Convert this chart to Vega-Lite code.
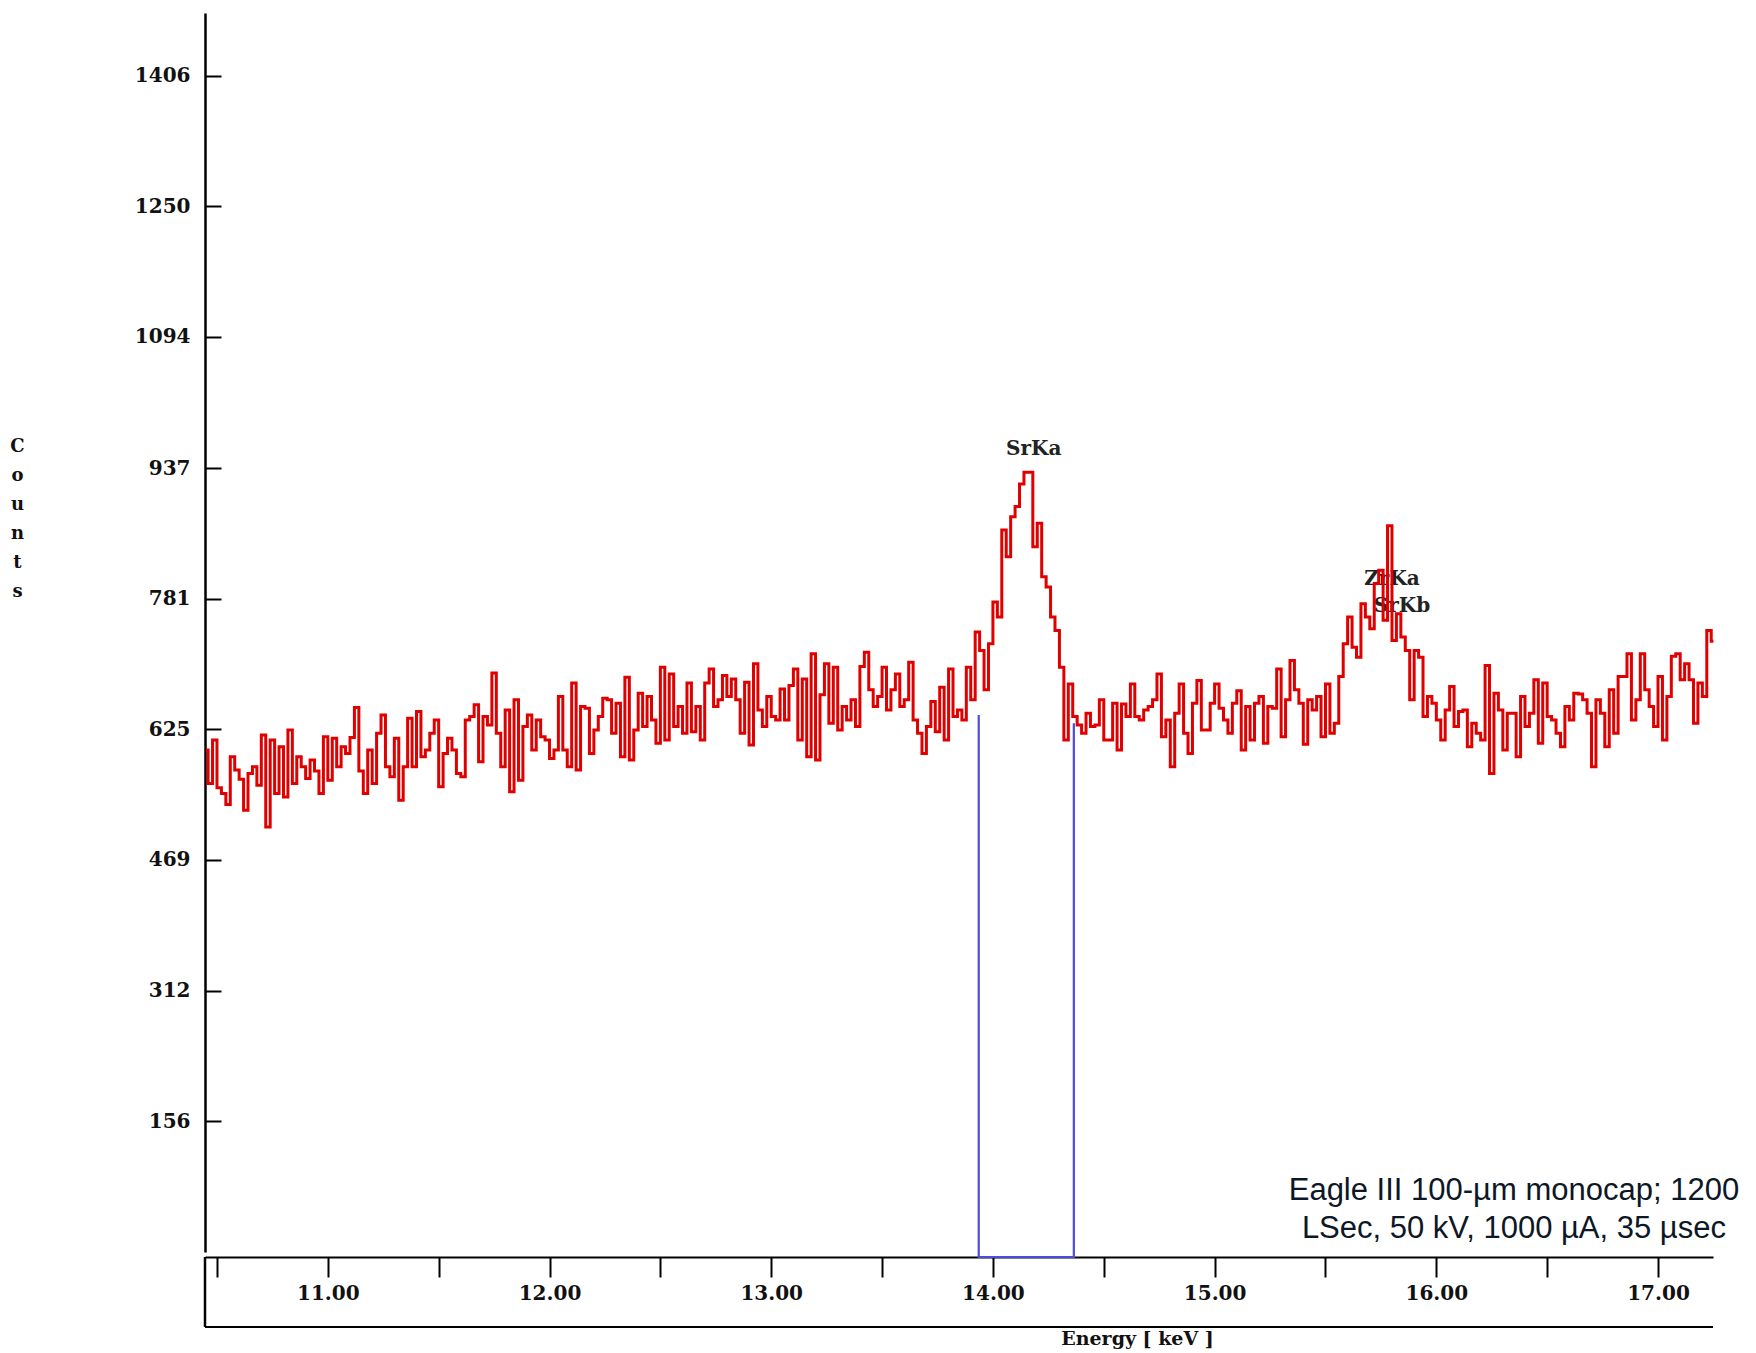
{
  "$schema": "https://vega.github.io/schema/vega-lite/v6.json",
  "width": 1508,
  "height": 1239,
  "autosize": {"type": "none"},
  "padding": {"left": 205, "top": 13, "right": 43, "bottom": 101},
  "background": "white",
  "config": {"view": {"stroke": null}},
  "datasets": {
    "spectrum": [
      {"e":10.45,"c":600},{"e":10.47,"c":560},{"e":10.49,"c":612},{"e":10.51,"c":555},{"e":10.53,"c":548},{"e":10.55,"c":535},{"e":10.57,"c":592},{"e":10.59,"c":576},{"e":10.61,"c":565},{"e":10.63,"c":528},
      {"e":10.65,"c":572},{"e":10.67,"c":580},{"e":10.69,"c":558},{"e":10.71,"c":618},{"e":10.73,"c":508},{"e":10.75,"c":612},{"e":10.77,"c":548},{"e":10.79,"c":604},{"e":10.81,"c":544},{"e":10.83,"c":624},
      {"e":10.85,"c":560},{"e":10.87,"c":592},{"e":10.89,"c":580},{"e":10.91,"c":566},{"e":10.93,"c":588},{"e":10.95,"c":575},{"e":10.97,"c":548},{"e":10.99,"c":616},{"e":11.01,"c":564},{"e":11.03,"c":614},
      {"e":11.05,"c":580},{"e":11.07,"c":604},{"e":11.09,"c":596},{"e":11.11,"c":615},{"e":11.13,"c":651},{"e":11.15,"c":575},{"e":11.17,"c":548},{"e":11.19,"c":600},{"e":11.21,"c":560},{"e":11.23,"c":620},
      {"e":11.25,"c":642},{"e":11.27,"c":580},{"e":11.29,"c":568},{"e":11.31,"c":614},{"e":11.33,"c":540},{"e":11.35,"c":580},{"e":11.37,"c":638},{"e":11.39,"c":580},{"e":11.41,"c":646},{"e":11.43,"c":592},
      {"e":11.45,"c":600},{"e":11.47,"c":620},{"e":11.49,"c":636},{"e":11.51,"c":556},{"e":11.53,"c":596},{"e":11.55,"c":614},{"e":11.57,"c":600},{"e":11.59,"c":572},{"e":11.61,"c":568},{"e":11.63,"c":636},
      {"e":11.65,"c":640},{"e":11.67,"c":654},{"e":11.69,"c":586},{"e":11.71,"c":640},{"e":11.73,"c":630},{"e":11.75,"c":692},{"e":11.77,"c":620},{"e":11.79,"c":580},{"e":11.81,"c":648},{"e":11.83,"c":550},
      {"e":11.85,"c":660},{"e":11.87,"c":564},{"e":11.89,"c":628},{"e":11.91,"c":642},{"e":11.93,"c":600},{"e":11.95,"c":636},{"e":11.97,"c":616},{"e":11.99,"c":612},{"e":12.01,"c":590},{"e":12.03,"c":600},
      {"e":12.05,"c":664},{"e":12.07,"c":600},{"e":12.09,"c":580},{"e":12.11,"c":680},{"e":12.13,"c":576},{"e":12.15,"c":652},{"e":12.17,"c":650},{"e":12.19,"c":596},{"e":12.21,"c":624},{"e":12.23,"c":640},
      {"e":12.25,"c":662},{"e":12.27,"c":660},{"e":12.29,"c":620},{"e":12.31,"c":656},{"e":12.33,"c":592},{"e":12.35,"c":687},{"e":12.37,"c":588},{"e":12.39,"c":624},{"e":12.41,"c":668},{"e":12.43,"c":628},
      {"e":12.45,"c":664},{"e":12.47,"c":636},{"e":12.49,"c":608},{"e":12.51,"c":699},{"e":12.53,"c":612},{"e":12.55,"c":691},{"e":12.57,"c":628},{"e":12.59,"c":652},{"e":12.61,"c":620},{"e":12.63,"c":680},
      {"e":12.65,"c":622},{"e":12.67,"c":652},{"e":12.69,"c":612},{"e":12.71,"c":680},{"e":12.73,"c":697},{"e":12.75,"c":652},{"e":12.77,"c":660},{"e":12.79,"c":689},{"e":12.81,"c":664},{"e":12.83,"c":685},
      {"e":12.85,"c":660},{"e":12.87,"c":620},{"e":12.89,"c":681},{"e":12.91,"c":606},{"e":12.93,"c":703},{"e":12.95,"c":648},{"e":12.97,"c":628},{"e":12.99,"c":664},{"e":13.01,"c":640},{"e":13.03,"c":636},
      {"e":13.05,"c":673},{"e":13.07,"c":636},{"e":13.09,"c":677},{"e":13.11,"c":697},{"e":13.13,"c":612},{"e":13.15,"c":685},{"e":13.17,"c":592},{"e":13.19,"c":715},{"e":13.21,"c":588},{"e":13.23,"c":666},
      {"e":13.25,"c":703},{"e":13.27,"c":632},{"e":13.29,"c":699},{"e":13.31,"c":624},{"e":13.33,"c":652},{"e":13.35,"c":636},{"e":13.37,"c":660},{"e":13.39,"c":628},{"e":13.41,"c":700},{"e":13.43,"c":717},
      {"e":13.45,"c":672},{"e":13.47,"c":652},{"e":13.49,"c":664},{"e":13.51,"c":699},{"e":13.53,"c":648},{"e":13.55,"c":672},{"e":13.57,"c":691},{"e":13.59,"c":652},{"e":13.61,"c":660},{"e":13.63,"c":705},
      {"e":13.65,"c":636},{"e":13.67,"c":620},{"e":13.69,"c":596},{"e":13.71,"c":628},{"e":13.73,"c":658},{"e":13.75,"c":622},{"e":13.77,"c":675},{"e":13.79,"c":612},{"e":13.81,"c":697},{"e":13.83,"c":640},
      {"e":13.85,"c":648},{"e":13.87,"c":636},{"e":13.89,"c":699},{"e":13.91,"c":660},{"e":13.93,"c":741},{"e":13.95,"c":719},{"e":13.97,"c":672},{"e":13.99,"c":727},{"e":14.01,"c":777},{"e":14.03,"c":759},
      {"e":14.05,"c":863},{"e":14.07,"c":831},{"e":14.09,"c":879},{"e":14.11,"c":891},{"e":14.13,"c":918},{"e":14.15,"c":932},{"e":14.17,"c":932},{"e":14.19,"c":843},{"e":14.21,"c":871},{"e":14.23,"c":807},
      {"e":14.25,"c":795},{"e":14.27,"c":759},{"e":14.29,"c":743},{"e":14.31,"c":699},{"e":14.33,"c":612},{"e":14.35,"c":679},{"e":14.37,"c":640},{"e":14.39,"c":630},{"e":14.41,"c":620},{"e":14.43,"c":644},
      {"e":14.45,"c":628},{"e":14.47,"c":630},{"e":14.49,"c":660},{"e":14.51,"c":612},{"e":14.53,"c":612},{"e":14.55,"c":656},{"e":14.57,"c":600},{"e":14.59,"c":655},{"e":14.61,"c":640},{"e":14.63,"c":679},
      {"e":14.65,"c":640},{"e":14.67,"c":636},{"e":14.69,"c":648},{"e":14.71,"c":652},{"e":14.73,"c":660},{"e":14.75,"c":691},{"e":14.77,"c":616},{"e":14.79,"c":636},{"e":14.81,"c":580},{"e":14.83,"c":644},
      {"e":14.85,"c":679},{"e":14.87,"c":620},{"e":14.89,"c":596},{"e":14.91,"c":656},{"e":14.93,"c":683},{"e":14.95,"c":624},{"e":14.97,"c":624},{"e":14.99,"c":656},{"e":15.01,"c":679},{"e":15.03,"c":650},
      {"e":15.05,"c":636},{"e":15.07,"c":620},{"e":15.09,"c":656},{"e":15.11,"c":671},{"e":15.13,"c":600},{"e":15.15,"c":652},{"e":15.17,"c":612},{"e":15.19,"c":656},{"e":15.21,"c":664},{"e":15.23,"c":608},
      {"e":15.25,"c":652},{"e":15.27,"c":650},{"e":15.29,"c":697},{"e":15.31,"c":616},{"e":15.33,"c":660},{"e":15.35,"c":707},{"e":15.37,"c":672},{"e":15.39,"c":656},{"e":15.41,"c":607},{"e":15.43,"c":660},
      {"e":15.45,"c":648},{"e":15.47,"c":664},{"e":15.49,"c":616},{"e":15.51,"c":679},{"e":15.53,"c":620},{"e":15.55,"c":632},{"e":15.57,"c":688},{"e":15.59,"c":727},{"e":15.61,"c":759},{"e":15.63,"c":723},
      {"e":15.65,"c":711},{"e":15.67,"c":775},{"e":15.69,"c":759},{"e":15.71,"c":745},{"e":15.73,"c":799},{"e":15.75,"c":815},{"e":15.77,"c":755},{"e":15.79,"c":868},{"e":15.81,"c":731},{"e":15.83,"c":763},
      {"e":15.85,"c":735},{"e":15.87,"c":719},{"e":15.89,"c":660},{"e":15.91,"c":719},{"e":15.93,"c":711},{"e":15.95,"c":640},{"e":15.97,"c":664},{"e":15.99,"c":656},{"e":16.01,"c":636},{"e":16.03,"c":612},
      {"e":16.05,"c":648},{"e":16.07,"c":676},{"e":16.09,"c":628},{"e":16.11,"c":646},{"e":16.13,"c":648},{"e":16.15,"c":604},{"e":16.17,"c":632},{"e":16.19,"c":620},{"e":16.21,"c":612},{"e":16.23,"c":701},
      {"e":16.25,"c":572},{"e":16.27,"c":668},{"e":16.29,"c":648},{"e":16.31,"c":600},{"e":16.33,"c":644},{"e":16.35,"c":644},{"e":16.37,"c":592},{"e":16.39,"c":664},{"e":16.41,"c":628},{"e":16.43,"c":644},
      {"e":16.45,"c":684},{"e":16.47,"c":608},{"e":16.49,"c":680},{"e":16.51,"c":640},{"e":16.53,"c":636},{"e":16.55,"c":620},{"e":16.57,"c":604},{"e":16.59,"c":652},{"e":16.61,"c":636},{"e":16.63,"c":668},
      {"e":16.65,"c":667},{"e":16.67,"c":660},{"e":16.69,"c":644},{"e":16.71,"c":580},{"e":16.73,"c":660},{"e":16.75,"c":644},{"e":16.77,"c":604},{"e":16.79,"c":672},{"e":16.81,"c":620},{"e":16.83,"c":688},
      {"e":16.85,"c":688},{"e":16.87,"c":715},{"e":16.89,"c":636},{"e":16.91,"c":660},{"e":16.93,"c":715},{"e":16.95,"c":672},{"e":16.97,"c":652},{"e":16.99,"c":628},{"e":17.01,"c":688},{"e":17.03,"c":612},
      {"e":17.05,"c":664},{"e":17.07,"c":712},{"e":17.09,"c":715},{"e":17.11,"c":684},{"e":17.13,"c":703},{"e":17.15,"c":684},{"e":17.17,"c":632},{"e":17.19,"c":680},{"e":17.21,"c":664},{"e":17.23,"c":743},
      {"e":17.25,"c":730}
    ],
    "roi": [
      {"i":0,"e":13.936,"c":642},
      {"i":1,"e":13.936,"c":-6},
      {"i":2,"e":14.365,"c":-6},
      {"i":3,"e":14.365,"c":632}
    ],
    "boxBottom": [{"e":10.446,"e2":17.248,"c":-89.6}],
    "boxLeft": [{"e":10.446,"c":-6,"c2":-89.6}],
    "peaks": [
      {"e":14.184,"c":960,"t":"SrKa"},
      {"e":15.80,"c":804,"t":"ZrKa"},
      {"e":15.845,"c":772,"t":"SrKb"}
    ],
    "note": [
      {"e":16.35,"c":73,"t":"Eagle III 100-µm monocap; 1200"},
      {"e":16.35,"c":27,"t":"LSec, 50 kV, 1000 µA, 35 µsec"}
    ]
  },
  "encoding": {
    "x": {
      "field": "e",
      "type": "quantitative",
      "scale": {"domain": [10.446, 17.248], "nice": false, "zero": false},
      "axis": {
        "title": "Energy [ keV ]",
        "values": [10.5, 11, 11.5, 12, 12.5, 13, 13.5, 14, 14.5, 15, 15.5, 16, 16.5, 17],
        "labelExpr": "datum.value % 1 === 0 ? format(datum.value, '.2f') : ''",
        "offset": 5,
        "grid": false,
        "tickSize": 20,
        "tickWidth": 2,
        "tickColor": "#000000",
        "domainColor": "#000000",
        "domainWidth": 2,
        "labelFont": "DejaVu Serif",
        "labelFontWeight": "bold",
        "labelFontSize": 20,
        "labelColor": "#111111",
        "labelDx": 18,
        "labelPadding": 6,
        "labelFlush": false,
        "labelOverlap": false,
        "titleFont": "DejaVu Serif",
        "titleFontWeight": "bold",
        "titleFontSize": 19,
        "titleColor": "#111111",
        "titleX": 932,
        "titleY": 81,
        "titleAlign": "center",
        "titleBaseline": "middle"
      }
    },
    "y": {
      "field": "c",
      "type": "quantitative",
      "scale": {"domain": [0, 1481], "nice": false, "zero": false},
      "axis": {
        "title": ["C", "o", "u", "n", "t", "s"],
        "values": [156, 312, 469, 625, 781, 937, 1094, 1250, 1406],
        "format": "d",
        "grid": false,
        "tickSize": -16,
        "tickWidth": 2,
        "tickColor": "#000000",
        "domainColor": "#000000",
        "domainWidth": 2.5,
        "labelFont": "DejaVu Serif",
        "labelFontWeight": "bold",
        "labelFontSize": 20,
        "labelColor": "#111111",
        "labelPadding": 31,
        "labelOverlap": false,
        "titleAngle": 0,
        "titleX": -188,
        "titleY": 424,
        "titleAlign": "center",
        "titleBaseline": "top",
        "titleLineHeight": 29,
        "titleFont": "DejaVu Serif",
        "titleFontWeight": "bold",
        "titleFontSize": 18,
        "titleColor": "#111111"
      }
    }
  },
  "layer": [
    {
      "data": {"name": "boxBottom"},
      "mark": {"type": "rule", "color": "#000000", "strokeWidth": 2},
      "encoding": {"x2": {"field": "e2"}}
    },
    {
      "data": {"name": "boxLeft"},
      "mark": {"type": "rule", "color": "#000000", "strokeWidth": 2.5},
      "encoding": {"y2": {"field": "c2"}}
    },
    {
      "data": {"name": "roi"},
      "mark": {"type": "line", "color": "#4b4bdc", "strokeWidth": 2.2},
      "encoding": {"order": {"field": "i", "type": "quantitative"}}
    },
    {
      "data": {"name": "peaks"},
      "mark": {"type": "text", "font": "DejaVu Serif", "fontWeight": "bold", "fontSize": 20, "color": "#222222", "align": "center", "baseline": "middle"},
      "encoding": {"text": {"field": "t", "type": "nominal"}}
    },
    {
      "data": {"name": "spectrum"},
      "mark": {"type": "line", "interpolate": "step", "color": "#e00000", "strokeWidth": 3},
      "encoding": {}
    },
    {
      "data": {"name": "note"},
      "mark": {"type": "text", "font": "Liberation Sans", "fontSize": 31, "color": "#0d1726", "align": "center", "baseline": "middle"},
      "encoding": {"text": {"field": "t", "type": "nominal"}}
    }
  ]
}
